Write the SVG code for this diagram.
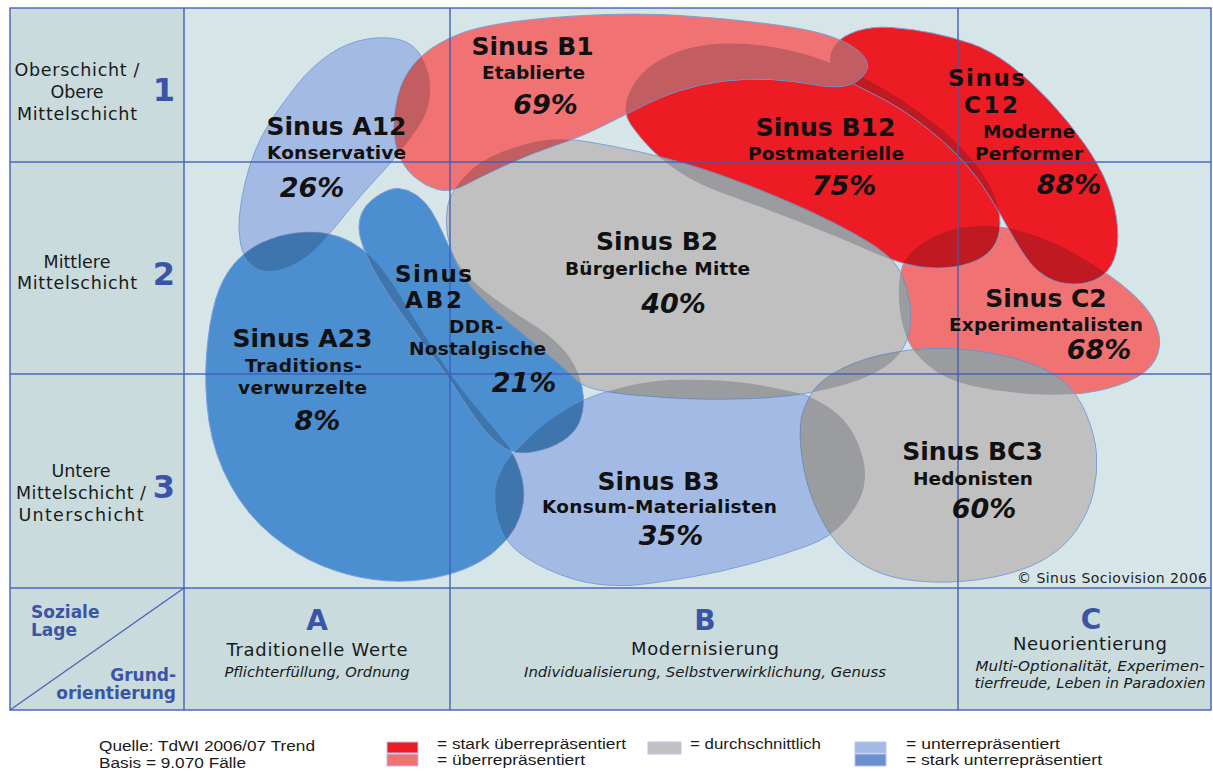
<svg xmlns="http://www.w3.org/2000/svg" xmlns:xlink="http://www.w3.org/1999/xlink" width="1213" height="771" viewBox="0 0 1213 771">
<style>
.bgm{fill:#d6e5e7}
.bgs{fill:#c9dbdc}
.grid{stroke:#3d5cb9;stroke-width:1.5;fill:none;stroke-opacity:.9}
.blob{stroke:#7f9fd6;stroke-width:1}
.lb{fill:#a3bbe4}.mb{fill:#4b8fd0}.gr{fill:#c0c0c0}.rd{fill:#ed1c24}.lr{fill:#f17272}
.ov{fill:#0a1020;fill-opacity:.2;stroke:none}
.t{font-family:"DejaVu Sans",Verdana,sans-serif;fill:#111;text-anchor:middle}
.h{font-size:25px;font-weight:bold}
.h2{font-size:23px;font-weight:bold}
.s{font-size:18.5px;font-weight:bold}
.p{font-size:27px;font-weight:bold;font-style:italic}
.ll{font-family:"DejaVu Sans",Verdana,sans-serif;font-size:17.5px;fill:#1a1a1a;text-anchor:middle}
.num{font-family:"DejaVu Sans",Verdana,sans-serif;font-size:32px;font-weight:bold;fill:#3a55a8;text-anchor:middle}
.ax{font-family:"DejaVu Sans",Verdana,sans-serif;font-size:17px;font-weight:bold;fill:#3a55a8}
.col{font-family:"DejaVu Sans",Verdana,sans-serif;font-size:28px;font-weight:bold;fill:#3a55a8;text-anchor:middle}
.cn{font-family:"DejaVu Sans",Verdana,sans-serif;font-size:18px;fill:#1a1a1a;text-anchor:middle}
.it{font-family:"DejaVu Sans",Verdana,sans-serif;font-size:14px;font-style:italic;fill:#1a1a1a;text-anchor:middle}
.lg{font-family:"Liberation Sans",Arial,sans-serif;font-size:14px;fill:#1a1a1a}
.sw{stroke:#b3c6ea;stroke-width:1}
</style>
<defs>
<path id="pA12" d="M400.5,40 Q414,44 421,56 Q428,68 429.5,80 Q431,92 428.5,104 Q426,116 417,129 Q408,142 398,154 Q388,166 374,181 Q360,196 348,211 Q336,226 324,240 Q312,254 298,262 Q284,270 272,271 Q260,272 251.5,264.5 Q243,257 240.5,243.5 Q238,230 239.5,215 Q241,200 245,183 Q249,166 255.5,150 Q262,134 272,119 Q282,104 297,85 Q312,66 330,54 Q348,42 367.5,39 Q387,36 400.5,40 Z"/>
<path id="pB1" d="M398,96 Q402,80 411,68 Q420,56 433.5,47 Q447,38 464.5,32 Q482,26 515,21.5 Q548,17 594,15 Q640,13 680,15.5 Q720,18 757.5,22.5 Q795,27 815.5,32 Q836,37 849,44.5 Q862,52 866,60 Q870,68 863,76 Q856,84 844,86 Q832,88 813.5,84.5 Q795,81 771.5,79.5 Q748,78 724,81 Q700,84 680,90.5 Q660,97 637.5,108.5 Q615,120 597.5,128.5 Q580,137 555,145.5 Q530,154 506,165 Q482,176 466,184.5 Q450,193 437.5,189.5 Q425,186 414.5,177 Q404,168 399,155 Q394,142 394,127 Q394,112 398,96 Z"/>
<path id="pB12" d="M628,96 Q634,80 647,69 Q660,58 680,51 Q700,44 725,43.5 Q750,43 775,47.5 Q800,52 820,59 Q840,66 860,76 Q880,86 900,99 Q920,112 937.5,126 Q955,140 970,157.5 Q985,175 992.5,191.5 Q1000,208 1000,223 Q1000,238 992.5,248 Q985,258 970,263 Q955,268 937.5,268 Q920,268 902.5,263 Q885,258 867.5,250 Q850,242 825,232 Q800,222 775,212.5 Q750,203 725,194 Q700,185 682.5,174 Q665,163 652.5,150.5 Q640,138 631,125 Q622,112 628,96 Z"/>
<path id="pC12" d="M836,44 Q842,36 857,31 Q872,26 892,27.5 Q912,29 932,33 Q952,37 971,43.5 Q990,50 1010,65 Q1030,80 1049.5,101 Q1069,122 1084.5,144 Q1100,166 1108,186.5 Q1116,207 1117.5,227 Q1119,247 1114,259.5 Q1109,272 1098.5,278 Q1088,284 1074,284 Q1060,284 1048.5,278 Q1037,272 1029.5,262 Q1022,252 1015,240 Q1008,228 1001.5,216.5 Q995,205 986.5,191.5 Q978,178 966.5,165 Q955,152 942.5,141 Q930,130 915,119 Q900,108 885,100 Q870,92 857.5,86 Q845,80 837.5,73 Q830,66 830,59 Q830,52 836,44 Z"/>
<path id="pB2" d="M464,177 Q478,161 503,151.5 Q528,142 546.5,140 Q565,138 589,142 Q613,146 638,151.5 Q663,157 691.5,165.5 Q720,174 760,190 Q800,206 830,221 Q860,236 877.5,248 Q895,260 901.5,274 Q908,288 910,304 Q912,320 909,333 Q906,346 896.5,357 Q887,368 866,377 Q845,386 813.5,392 Q782,398 741.5,399 Q701,400 671,398 Q641,396 623,394 Q605,392 592.5,388.5 Q580,385 571.5,376 Q563,367 546.5,353.5 Q530,340 513.5,326.5 Q497,313 481,297.5 Q465,282 457.5,266 Q450,250 447.5,235 Q445,220 447.5,206.5 Q450,193 464,177 Z"/>
<path id="pAB2" d="M398.5,188.5 Q408,189 417,195.5 Q426,202 432,212 Q438,222 443,233.5 Q448,245 454,256.5 Q460,268 470,278 Q480,288 496.5,300 Q513,312 530,322.5 Q547,333 559.5,345.5 Q572,358 577.5,372 Q583,386 583.5,398.5 Q584,411 579.5,422 Q575,433 562.5,441 Q550,449 532.5,452 Q515,455 503.5,447.5 Q492,440 482,427 Q472,414 459.5,394.5 Q447,375 430,352.5 Q413,330 399,310 Q385,290 375.5,273 Q366,256 361.5,242 Q357,228 360.5,216.5 Q364,205 376.5,196.5 Q389,188 398.5,188.5 Z"/>
<path id="pA23" d="M326.5,233.5 Q340,236 351,242 Q362,248 372,258 Q382,268 391,281.5 Q400,295 415,320 Q430,345 446.5,368.5 Q463,392 480,412 Q497,432 506,443.5 Q515,455 520,471 Q525,487 523.5,501 Q522,515 515,527.5 Q508,540 495,551 Q482,562 464.5,569 Q447,576 423.5,579.5 Q400,583 373.5,579.5 Q347,576 321.5,565.5 Q296,555 271.5,535 Q247,515 230.5,485 Q214,455 209,421.5 Q204,388 206.5,355 Q209,322 215.5,300 Q222,278 234,264 Q246,250 262,242.5 Q278,235 295.5,233 Q313,231 326.5,233.5 Z"/>
<path id="pB3" d="M623.5,387 Q640,383 656.5,381 Q673,379 706.5,380 Q740,381 765,386 Q790,391 800,393.5 Q810,396 825,405 Q840,414 849,427 Q858,440 862.5,456.5 Q867,473 863.5,488 Q860,503 846,520 Q832,537 807,546 Q782,555 751.5,563.5 Q721,572 691,577 Q661,582 640.5,584.5 Q620,587 596.5,584 Q573,581 548,569.5 Q523,558 511.5,545.5 Q500,533 496.5,511.5 Q493,490 499,476 Q505,462 512.5,454.5 Q520,447 531,436 Q542,425 560,413.5 Q578,402 592.5,396.5 Q607,391 623.5,387 Z"/>
<path id="pBC3" d="M802,415 Q806,400 814.5,389 Q823,378 843,368 Q863,358 893,352.5 Q923,347 953.5,348.5 Q984,350 1014,358 Q1044,366 1060.5,379 Q1077,392 1086,413.5 Q1095,435 1096.5,453.5 Q1098,472 1093.5,492 Q1089,512 1076.5,530 Q1064,548 1044,559.5 Q1024,571 994,577 Q964,583 933.5,582 Q903,581 883,574 Q863,567 846.5,552.5 Q830,538 818,512.5 Q806,487 802,458.5 Q798,430 802,415 Z"/>
<path id="pC2" d="M912.5,251 Q925,240 942.5,233 Q960,226 982.5,226 Q1005,226 1027.5,233 Q1050,240 1070,251 Q1090,262 1110,276 Q1130,290 1142.5,304 Q1155,318 1158.5,332.5 Q1162,347 1155,360 Q1148,373 1128,381.5 Q1108,390 1084,393 Q1060,396 1030,394 Q1000,392 972.5,386 Q945,380 927.5,365 Q910,350 904,330 Q898,310 899,286 Q900,262 912.5,251 Z"/>
<clipPath id="cB12"><use xlink:href="#pC2"/></clipPath>
<clipPath id="cC12"><use xlink:href="#pC2"/><use xlink:href="#pB12"/></clipPath>
<clipPath id="cA23"><use xlink:href="#pA12"/><use xlink:href="#pB3"/></clipPath>
<clipPath id="cAB2"><use xlink:href="#pA23"/><use xlink:href="#pB3"/></clipPath>
<clipPath id="cB2"><use xlink:href="#pC2"/><use xlink:href="#pB3"/><use xlink:href="#pB12"/><use xlink:href="#pAB2"/></clipPath>
<clipPath id="cB1"><use xlink:href="#pA12"/><use xlink:href="#pB12"/><use xlink:href="#pC12"/><use xlink:href="#pB2"/></clipPath>
<clipPath id="cBC3"><use xlink:href="#pC2"/><use xlink:href="#pB3"/><use xlink:href="#pB2"/></clipPath>
</defs>

<g id="background">
<rect x="10" y="8" width="1201" height="702" class="bgs"/>
<rect x="184" y="8" width="1027" height="580" class="bgm"/>
</g>

<g id="blobs">
<g id="blob-C2"><use xlink:href="#pC2" class="blob lr"/></g>
<g id="blob-B3"><use xlink:href="#pB3" class="blob lb"/></g>
<g id="blob-B12"><use xlink:href="#pB12" class="blob rd"/><use xlink:href="#pB12" class="ov" clip-path="url(#cB12)"/></g>
<g id="blob-C12"><use xlink:href="#pC12" class="blob rd"/><use xlink:href="#pC12" class="ov" clip-path="url(#cC12)"/></g>
<g id="blob-A12"><use xlink:href="#pA12" class="blob lb"/></g>
<g id="blob-A23"><use xlink:href="#pA23" class="blob mb"/><use xlink:href="#pA23" class="ov" clip-path="url(#cA23)"/></g>
<g id="blob-AB2"><use xlink:href="#pAB2" class="blob mb"/><use xlink:href="#pAB2" class="ov" clip-path="url(#cAB2)"/></g>
<g id="blob-B2"><use xlink:href="#pB2" class="blob gr"/><use xlink:href="#pB2" class="ov" clip-path="url(#cB2)"/></g>
<g id="blob-B1"><use xlink:href="#pB1" class="blob lr"/><use xlink:href="#pB1" class="ov" clip-path="url(#cB1)"/></g>
<g id="blob-BC3"><use xlink:href="#pBC3" class="blob gr"/><use xlink:href="#pBC3" class="ov" clip-path="url(#cBC3)"/></g>
</g>

<g id="connectors">
<rect x="10" y="8" width="1201" height="702" class="grid"/>
<line x1="10" y1="162" x2="1211" y2="162" class="grid"/>
<line x1="10" y1="374" x2="1211" y2="374" class="grid"/>
<line x1="10" y1="588" x2="1211" y2="588" class="grid"/>
<line x1="184" y1="8" x2="184" y2="710" class="grid"/>
<line x1="450" y1="8" x2="450" y2="710" class="grid"/>
<line x1="958" y1="8" x2="958" y2="710" class="grid"/>
<line x1="10" y1="710" x2="184" y2="588" class="grid"/>
</g>

<g id="row-labels">
<text class="ll" x="77" y="76" textLength="125">Oberschicht /</text>
<text class="ll" x="77" y="98">Obere</text>
<text class="ll" x="77" y="120" textLength="120">Mittelschicht</text>
<text class="num" x="164" y="101">1</text>
<text class="ll" x="77" y="268">Mittlere</text>
<text class="ll" x="77" y="289" textLength="120">Mittelschicht</text>
<text class="num" x="164" y="285">2</text>
<text class="ll" x="81" y="477">Untere</text>
<text class="ll" x="81" y="499" textLength="130">Mittelschicht /</text>
<text class="ll" x="81" y="521" textLength="125">Unterschicht</text>
<text class="num" x="164" y="498">3</text>
</g>

<g id="col-labels">
<text class="ax" x="31" y="618">Soziale</text>
<text class="ax" x="31" y="636">Lage</text>
<text class="ax" x="176" y="681" text-anchor="end">Grund-</text>
<text class="ax" x="176" y="699" text-anchor="end">orientierung</text>
<text class="col" x="317" y="630">A</text>
<text class="cn" x="317" y="656" textLength="181">Traditionelle Werte</text>
<text class="it" x="317" y="677" textLength="185" lengthAdjust="spacingAndGlyphs">Pflichterfüllung, Ordnung</text>
<text class="col" x="705" y="630">B</text>
<text class="cn" x="705" y="655" textLength="148">Modernisierung</text>
<text class="it" x="705" y="677" textLength="362" lengthAdjust="spacingAndGlyphs">Individualisierung, Selbstverwirklichung, Genuss</text>
<text class="col" x="1091" y="629">C</text>
<text class="cn" x="1090" y="650" textLength="154">Neuorientierung</text>
<text class="it" x="1090" y="671" textLength="229" lengthAdjust="spacingAndGlyphs">Multi-Optionalität, Experimen-</text>
<text class="it" x="1090" y="688" textLength="231" lengthAdjust="spacingAndGlyphs">tierfreude, Leben in Paradoxien</text>
<text x="1207" y="583" text-anchor="end" font-size="14" fill="#222" font-family="DejaVu Sans, Verdana, sans-serif" textLength="190">© Sinus Sociovision 2006</text>
</g>

<g id="node-A12">
<text class="t h" x="336.5" y="135">Sinus A12</text>
<text class="t s" x="336.5" y="159" textLength="139">Konservative</text>
<text class="t p" x="312" y="197">26%</text>
</g>
<g id="node-B1">
<text class="t h" x="532.5" y="55">Sinus B1</text>
<text class="t s" x="533.5" y="79" textLength="103">Etablierte</text>
<text class="t p" x="545.5" y="114">69%</text>
</g>
<g id="node-B12">
<text class="t h" x="825.5" y="136">Sinus B12</text>
<text class="t s" x="826" y="160" textLength="156">Postmaterielle</text>
<text class="t p" x="844" y="195">75%</text>
</g>
<g id="node-C12">
<text class="t h2" x="986.5" y="86" textLength="77">Sinus</text>
<text class="t h2" x="991" y="113" textLength="54">C12</text>
<text class="t s" x="1029" y="138" textLength="92">Moderne</text>
<text class="t s" x="1029" y="160" textLength="108">Performer</text>
<text class="t p" x="1069" y="194">88%</text>
</g>
<g id="node-A23">
<text class="t h" x="302.5" y="347">Sinus A23</text>
<text class="t s" x="303.5" y="372" textLength="117">Traditions-</text>
<text class="t s" x="302.5" y="394" textLength="129">verwurzelte</text>
<text class="t p" x="317.5" y="430">8%</text>
</g>
<g id="node-AB2">
<text class="t h2" x="433.5" y="282" textLength="77">Sinus</text>
<text class="t h2" x="433.5" y="308" textLength="57">AB2</text>
<text class="t s" x="476" y="333" textLength="54">DDR-</text>
<text class="t s" x="477.5" y="355" textLength="137">Nostalgische</text>
<text class="t p" x="524" y="392">21%</text>
</g>
<g id="node-B2">
<text class="t h" x="657" y="250">Sinus B2</text>
<text class="t s" x="657.5" y="275" textLength="185">Bürgerliche Mitte</text>
<text class="t p" x="673.5" y="313">40%</text>
</g>
<g id="node-C2">
<text class="t h" x="1046" y="307">Sinus C2</text>
<text class="t s" x="1046" y="331" textLength="194">Experimentalisten</text>
<text class="t p" x="1099" y="359">68%</text>
</g>
<g id="node-B3">
<text class="t h" x="658.5" y="490">Sinus B3</text>
<text class="t s" x="659.5" y="513" textLength="235">Konsum-Materialisten</text>
<text class="t p" x="671" y="545">35%</text>
</g>
<g id="node-BC3">
<text class="t h" x="972.5" y="460">Sinus BC3</text>
<text class="t s" x="973" y="485" textLength="120">Hedonisten</text>
<text class="t p" x="984" y="518">60%</text>
</g>

<g id="legend">
<text class="lg" x="99" y="751" textLength="216" lengthAdjust="spacingAndGlyphs">Quelle: TdWI 2006/07 Trend</text>
<text class="lg" x="99" y="768" textLength="147" lengthAdjust="spacingAndGlyphs">Basis = 9.070 Fälle</text>
<rect x="387" y="742" width="31" height="11" class="sw rd"/>
<rect x="387" y="754" width="31" height="12" class="sw lr"/>
<text class="lg" x="437" y="749" textLength="189" lengthAdjust="spacingAndGlyphs">= stark überrepräsentiert</text>
<text class="lg" x="437" y="765" textLength="148" lengthAdjust="spacingAndGlyphs">= überrepräsentiert</text>
<rect x="648" y="742" width="33" height="12" class="sw gr"/>
<text class="lg" x="690" y="749" textLength="131" lengthAdjust="spacingAndGlyphs">= durchschnittlich</text>
<rect x="855" y="742" width="31" height="11" class="sw lb"/>
<rect x="855" y="754" width="31" height="12" class="sw" fill="#6d8fcf"/>
<text class="lg" x="906" y="749" textLength="154" lengthAdjust="spacingAndGlyphs">= unterrepräsentiert</text>
<text class="lg" x="906" y="765" textLength="196" lengthAdjust="spacingAndGlyphs">= stark unterrepräsentiert</text>
</g>
</svg>
